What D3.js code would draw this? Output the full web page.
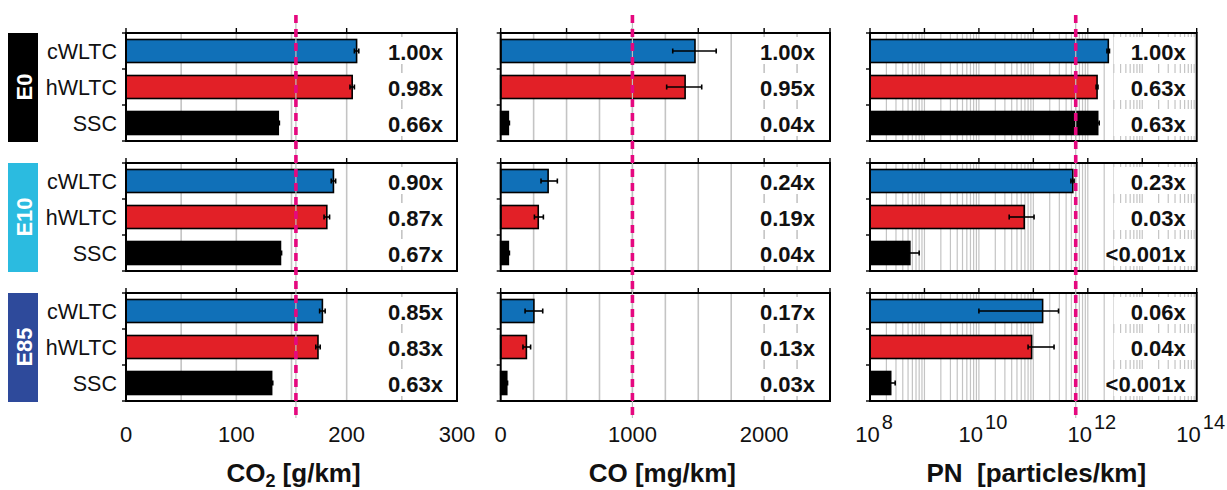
<!DOCTYPE html>
<html>
<head>
<meta charset="utf-8">
<script src="https://cdn.jsdelivr.net/npm/d3@7"></script>
<style>
  html, body { margin: 0; padding: 0; background: #fff; }
  svg { display: block; font-family: "Liberation Sans", Arial, sans-serif; }
</style>
</head>
<body>
<svg id="chart" width="1227" height="490"></svg>
<script>
// ---- data -------------------------------------------------------------
const fuels = ["E0", "E10", "E85"];
const cycles = ["cWLTC", "hWLTC", "SSC"];

// CO2 [g/km], rows = fuels, cols = cycles
const co2Values = [[209, 205, 138], [188, 182, 140], [178, 174, 132]];
const co2Low    = [[207, 203, 137], [186, 179.5, 139], [175.5, 172, 131]];
const co2High   = [[211, 207, 139], [190, 184.5, 141], [180.5, 176, 133]];
const co2Ratios = [["1.00x", "0.98x", "0.66x"], ["0.90x", "0.87x", "0.67x"], ["0.85x", "0.83x", "0.63x"]];
const co2Limit  = 154;
const co2Ticks  = [0, 100, 200, 300];

// CO [mg/km]
const coValues = [[1475, 1400, 58], [360, 285, 58], [252, 195, 46]];
const coLow    = [[1306, 1260, 50], [306, 256, 50], [185, 169, 40]];
const coHigh   = [[1636, 1526, 66], [430, 324, 66], [319, 227, 52]];
const coRatios = [["1.00x", "0.95x", "0.04x"], ["0.24x", "0.19x", "0.04x"], ["0.17x", "0.13x", "0.03x"]];
const coLimit  = 1000;
const coTicks  = [0, 1000, 2000];

// PN [particles/km]
const pnValues = [[2.38e12, 1.48e12, 1.52e12], [5.3e11, 6.8e10, 5.4e8], [1.48e11, 9.3e10, 2.4e8]];
const pnLow    = [[2.25e12, 1.42e12, 1.44e12], [4.9e11, 3.6e10, 2.5e8], [1.0e10, 8.0e10, 2.0e8]];
const pnHigh   = [[2.50e12, 1.54e12, 1.62e12], [5.6e11, 1.03e11, 8.0e8], [2.9e11, 2.4e11, 2.9e8]];
const pnRatios = [["1.00x", "0.63x", "0.63x"], ["0.23x", "0.03x", "<0.001x"], ["0.06x", "0.04x", "<0.001x"]];
const pnLimit  = 6e11;
const pnExponents = [8, 10, 12, 14];

// ---- styling ----------------------------------------------------------
const cycleColors = ["#1070b8", "#e22027", "#000000"];
const fuelColors  = ["#000000", "#2bbbe0", "#2e4a9b"];
const gridColor   = "#c4c4c4";
const limitColor  = "#e5087f";

const svg = d3.select("#chart");

const rowTop0 = 33, rowH = 108, rowStep = 130;
const rowTops = fuels.map((f, i) => rowTop0 + i * rowStep);

const band = d3.scaleBand().domain(cycles).range([0, rowH]).padding(0);
const barH = 23;

// panel definitions
const panels = [
  {
    x0: 126, x1: 457,
    scale: d3.scaleLinear().domain([0, 300]),
    grid: d3.range(50, 300, 50),
    majors: d3.range(0, 301, 100),
    values: co2Values, low: co2Low, high: co2High, ratios: co2Ratios,
    limit: co2Limit,
    title: "co2"
  },
  {
    x0: 500.7, x1: 830,
    scale: d3.scaleLinear().domain([0, 2500]),
    grid: d3.range(250, 2500, 250),
    majors: d3.range(0, 2501, 500),
    values: coValues, low: coLow, high: coHigh, ratios: coRatios,
    limit: coLimit,
    title: "co"
  },
  {
    x0: 870, x1: 1196.7,
    scale: d3.scaleLog().domain([1e8, 1e14]),
    grid: d3.range(8, 14).flatMap(e => d3.range(1, 10).map(k => k * Math.pow(10, e))).filter(v => v > 1e8),
    majors: d3.range(8, 15).map(e => Math.pow(10, e)),
    values: pnValues, low: pnLow, high: pnHigh, ratios: pnRatios,
    limit: pnLimit,
    title: "pn"
  }
];

panels.forEach(p => p.scale.range([p.x0, p.x1]));

// ---- fuel tags on the left ---------------------------------------------
fuels.forEach((fuel, i) => {
  const g = svg.append("g");
  g.append("rect")
    .attr("x", 8).attr("y", rowTops[i])
    .attr("width", 30).attr("height", rowH + 1)
    .attr("fill", fuelColors[i]);
  g.append("text")
    .attr("transform", `translate(${8 + 15 + 1},${rowTops[i] + rowH / 2}) rotate(-90)`)
    .attr("text-anchor", "middle")
    .attr("dominant-baseline", "central")
    .attr("fill", "#fff")
    .attr("font-weight", "bold")
    .attr("font-size", 22)
    .text(fuel);
});

// ---- cycle labels (left column only) -----------------------------------
fuels.forEach((fuel, i) => {
  svg.append("g")
    .selectAll("text")
    .data(cycles)
    .join("text")
    .attr("x", 117)
    .attr("y", c => rowTops[i] + band(c) + band.bandwidth() / 2 + 1)
    .attr("text-anchor", "end")
    .attr("dominant-baseline", "central")
    .attr("font-size", 21.5)
    .attr("fill", "#111")
    .text(c => c);
});

// ---- panels -------------------------------------------------------------
panels.forEach(p => {
  const x = p.scale;
  fuels.forEach((fuel, i) => {
    const top = rowTops[i];
    const g = svg.append("g");

    // grid lines
    g.append("g").selectAll("line")
      .data(p.grid)
      .join("line")
      .attr("x1", d => x(d)).attr("x2", d => x(d))
      .attr("y1", top).attr("y2", top + rowH)
      .attr("stroke", gridColor)
      .attr("stroke-width", p.title === "pn" ? 1.2 : 1.6);

    // white boxes behind the ratio labels
    g.append("g").selectAll("rect")
      .data(cycles)
      .join("rect")
      .attr("x", p.x1 - 83)
      .attr("y", c => top + band(c) + band.bandwidth() / 2 - 14)
      .attr("width", 81)
      .attr("height", 27)
      .attr("fill", "#fff");

    // bars
    const base = x.domain()[0];
    g.append("g").selectAll("rect")
      .data(cycles)
      .join("rect")
      .attr("x", x(base))
      .attr("y", c => top + band(c) + (band.bandwidth() - barH) / 2)
      .attr("width", (c, j) => x(p.values[i][j]) - x(base))
      .attr("height", barH)
      .attr("fill", (c, j) => cycleColors[j])
      .attr("stroke", "#000")
      .attr("stroke-width", 1.6);

    // error bars
    const eg = g.append("g").attr("stroke", "#000").attr("stroke-width", 1.6);
    cycles.forEach((c, j) => {
      const yc = top + band(c) + band.bandwidth() / 2;
      const xl = x(p.low[i][j]), xh = x(p.high[i][j]);
      eg.append("line").attr("x1", xl).attr("x2", xh).attr("y1", yc).attr("y2", yc);
      eg.append("line").attr("x1", xl).attr("x2", xl).attr("y1", yc - 2.5).attr("y2", yc + 2.5);
      eg.append("line").attr("x1", xh).attr("x2", xh).attr("y1", yc - 2.5).attr("y2", yc + 2.5);
    });

    // ratio labels
    g.append("g").selectAll("text")
      .data(cycles)
      .join("text")
      .attr("x", p.title === "co2" ? p.x1 - 14 : (p.title === "co" ? p.x1 - 15 : p.x1 - 11))
      .attr("y", c => top + band(c) + band.bandwidth() / 2 + 1)
      .attr("text-anchor", "end")
      .attr("dominant-baseline", "central")
      .attr("font-weight", "bold")
      .attr("font-size", 22)
      .attr("fill", "#111")
      .text((c, j) => p.ratios[i][j]);

    // outward ticks on top edge
    g.append("g").selectAll("line")
      .data(p.majors)
      .join("line")
      .attr("x1", d => x(d)).attr("x2", d => x(d))
      .attr("y1", top - 5).attr("y2", top)
      .attr("stroke", "#000").attr("stroke-width", 1.4);

    // y ticks at band boundaries
    g.append("g").selectAll("line")
      .data([0, 1, 2, 3])
      .join("line")
      .attr("x1", p.x0 - 4).attr("x2", p.x0)
      .attr("y1", k => top + k * band.step()).attr("y2", k => top + k * band.step())
      .attr("stroke", "#000").attr("stroke-width", 1.4);

    // panel frame
    g.append("rect")
      .attr("x", p.x0).attr("y", top)
      .attr("width", p.x1 - p.x0).attr("height", rowH)
      .attr("fill", "none")
      .attr("stroke", "#000")
      .attr("stroke-width", 2);
  });

  // limit line across the column
  const lx = x(p.limit);
  svg.append("line")
    .attr("x1", lx).attr("x2", lx).attr("y1", 15).attr("y2", 418)
    .attr("stroke", "#bdbdbd").attr("stroke-width", 1.2);
  svg.append("line")
    .attr("x1", lx).attr("x2", lx).attr("y1", 15).attr("y2", 418)
    .attr("stroke", limitColor).attr("stroke-width", 3.6)
    .attr("stroke-dasharray", "8,6");
});

// ---- bottom axes ------------------------------------------------------
const axisY = 442;
const tickFont = 22;

svg.append("g").selectAll("text")
  .data(co2Ticks)
  .join("text")
  .attr("x", d => panels[0].scale(d))
  .attr("y", axisY)
  .attr("text-anchor", "middle")
  .attr("font-size", tickFont)
  .attr("fill", "#111")
  .text(d => d);

svg.append("g").selectAll("text")
  .data(coTicks)
  .join("text")
  .attr("x", d => panels[1].scale(d))
  .attr("y", axisY)
  .attr("text-anchor", "middle")
  .attr("font-size", tickFont)
  .attr("fill", "#111")
  .text(d => d);

const pnLabels = svg.append("g").selectAll("text")
  .data(pnExponents)
  .join("text")
  .attr("x", e => panels[2].scale(Math.pow(10, e)) + 4)
  .attr("y", axisY)
  .attr("text-anchor", "middle")
  .attr("font-size", tickFont)
  .attr("fill", "#111");
pnLabels.append("tspan").text("10");
pnLabels.append("tspan")
  .attr("dy", -13)
  .attr("dx", 2)
  .attr("font-size", 20)
  .text(e => e);

// ---- axis titles --------------------------------------------------------
const titleY = 482;
const titleFont = 26;

const t1 = svg.append("text")
  .attr("x", (panels[0].x0 + panels[0].x1) / 2 + 2)
  .attr("y", titleY)
  .attr("text-anchor", "middle")
  .attr("font-weight", "bold")
  .attr("font-size", titleFont)
  .attr("fill", "#111");
t1.append("tspan").text("CO");
t1.append("tspan").attr("dy", 5).attr("font-size", 18).text("2");
t1.append("tspan").attr("dy", -5).text(" [g/km]");

svg.append("text")
  .attr("x", (panels[1].x0 + panels[1].x1) / 2 - 3)
  .attr("y", titleY)
  .attr("text-anchor", "middle")
  .attr("font-weight", "bold")
  .attr("font-size", titleFont)
  .attr("fill", "#111")
  .text("CO [mg/km]");

svg.append("text")
  .attr("x", (panels[2].x0 + panels[2].x1) / 2 + 3)
  .attr("y", titleY)
  .attr("text-anchor", "middle")
  .attr("font-weight", "bold")
  .attr("font-size", titleFont)
  .attr("fill", "#111")
  .attr("xml:space", "preserve")
  .style("white-space", "pre")
  .text("PN  [particles/km]");
</script>
</body>
</html>
